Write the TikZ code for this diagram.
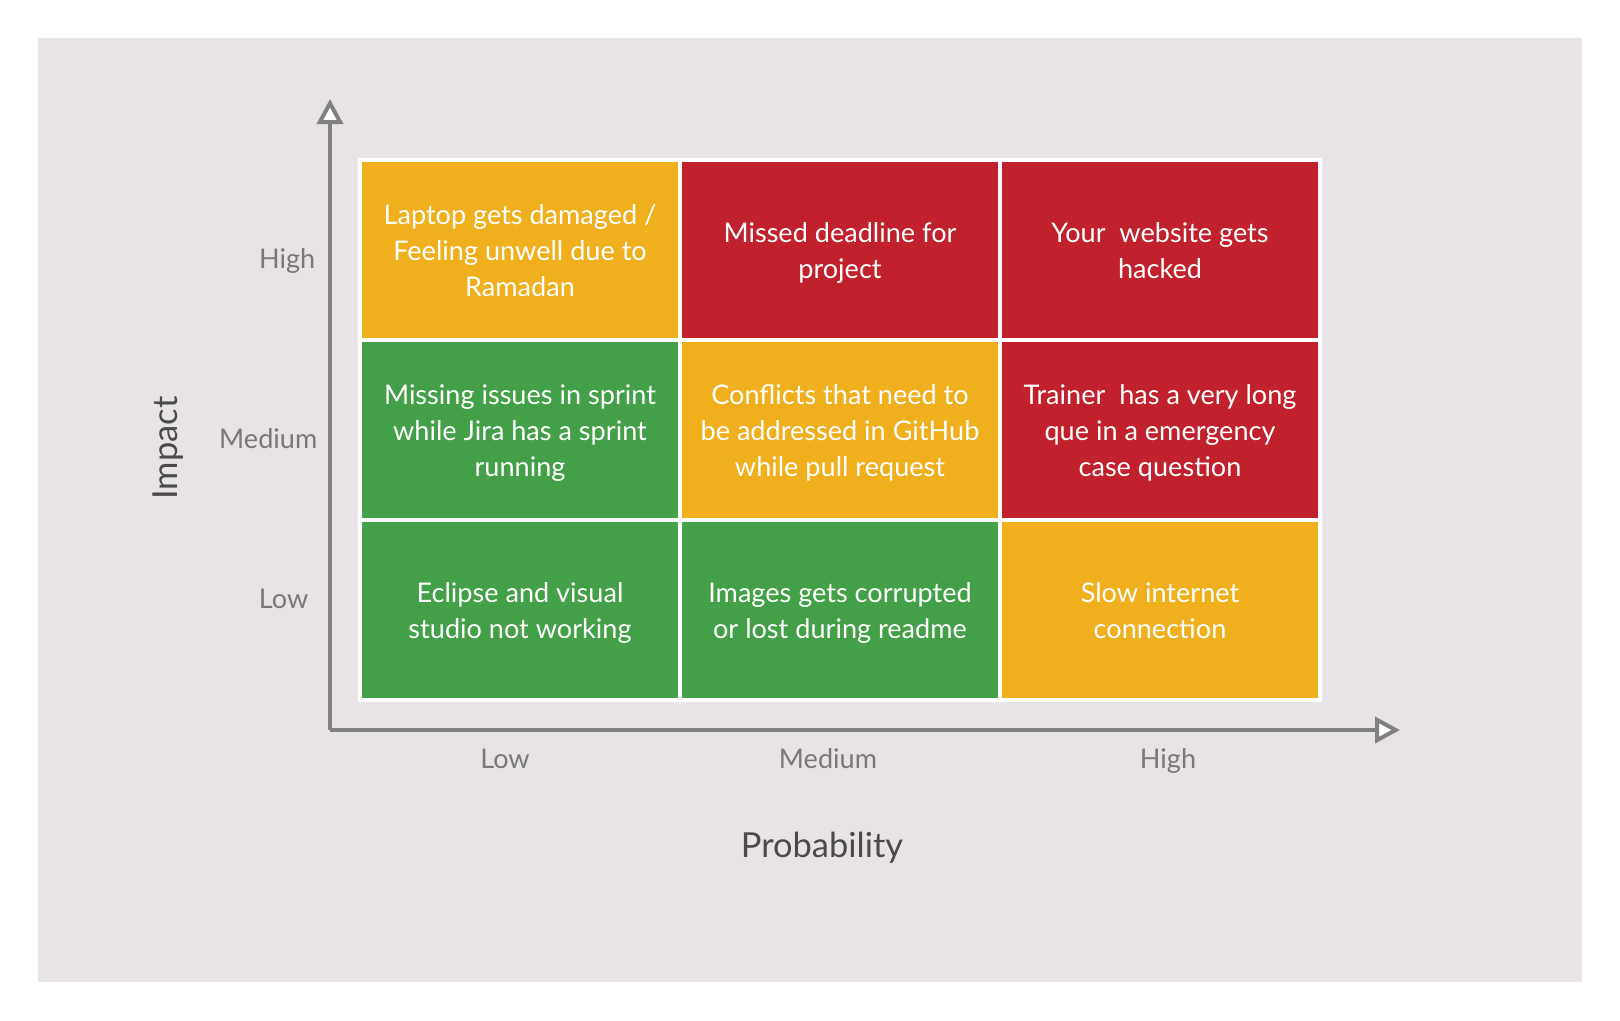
\documentclass[tikz,border=0pt]{standalone}
\usepackage{fontspec}
\setmainfont{Lato}
\usetikzlibrary{arrows.meta}
\definecolor{bgpanel}{RGB}{232,227,231}
\definecolor{riskorange}{RGB}{240,176,30}
\definecolor{riskred}{RGB}{192,33,45}
\definecolor{riskgreen}{RGB}{67,160,72}
\definecolor{axisgray}{RGB}{128,128,128}
\definecolor{ticklabel}{RGB}{120,120,120}
\definecolor{titlegray}{RGB}{74,74,74}
% fixed line extents so every cell text is centred the same way
\newcommand{\cellhead}{\rule{0pt}{9.1pt}}
\newcommand{\cellfoot}{\rule[-3.1pt]{0pt}{3.1pt}}
\tikzset{
  cell/.style={minimum width=316*0.01cm, minimum height=176*0.01cm, inner sep=0pt,
    draw=none, text=white, align=center, font=\fontsize{7.7}{10.3}\selectfont},
  orangecell/.style={cell, fill=riskorange},
  redcell/.style={cell, fill=riskred},
  greencell/.style={cell, fill=riskgreen},
  tick/.style={text=ticklabel, inner sep=0pt, font=\fontsize{7.7}{10}\selectfont},
  axistitle/.style={text=titlegray, inner sep=0pt, font=\fontsize{9.8}{12}\selectfont},
  axisline/.style={draw=axisgray, line width=4*0.01cm,
    -{Triangle[open, fill=white, length=25*0.01cm, width=26*0.01cm, line join=miter]}},
}
\begin{document}
\begin{tikzpicture}[x=0.01cm, y=-0.01cm]
  \useasboundingbox (0,0) rectangle (1620,1020);
  % panel
  \fill[bgpanel] (38,38) rectangle (1582,982);
  % white frame behind the grid
  \fill[white] (358,158) rectangle (1322,702);

  % grid cells (columns: probability, rows: impact)
  \node[orangecell] (c11) at (520,250) {\cellhead Laptop gets damaged /\\Feeling unwell due to\\Ramadan\cellfoot};
  \node[redcell]    (c12) at (840,250) {\cellhead Missed deadline for\\project\cellfoot};
  \node[redcell]    (c13) at (1160,250) {\cellhead Your~ website gets\\hacked\cellfoot};
  \node[greencell]  (c21) at (520,430) {\cellhead Missing issues in sprint\\while Jira has a sprint\\running\cellfoot};
  \node[orangecell] (c22) at (840,430) {\cellhead Conflicts that need to\\be addressed in GitHub\\while pull request\cellfoot};
  \node[redcell]    (c23) at (1160,430) {\cellhead Trainer~ has a very long\\que in a emergency\\case question\cellfoot};
  \node[greencell]  (c31) at (520,610) {\cellhead Eclipse and visual\\studio not working\cellfoot};
  \node[greencell]  (c32) at (840,610) {\cellhead Images gets corrupted\\or lost during readme\cellfoot};
  \node[orangecell] (c33) at (1160,610) {\cellhead Slow internet\\connection\cellfoot};

  % axes
  \coordinate (origin) at (330,730);
  \coordinate (ytop) at (330,99);
  \coordinate (xend) at (1400,730);
  \draw[axisline] (origin) -- (ytop);
  \draw[axisline] (origin) -- (xend);

  % impact ticks
  \node[tick, anchor=base east] (yhigh) at (316,268) {High};
  \node[tick, anchor=base east] (ymed)  at (318,448) {Medium};
  \node[tick, anchor=base east] (ylow)  at (309,608) {Low};

  % probability ticks
  \node[tick, anchor=base] (xlow)  at (505,768) {Low};
  \node[tick, anchor=base] (xmed)  at (828,768) {Medium};
  \node[tick, anchor=base] (xhigh) at (1168,768) {High};

  % axis titles
  \node[axistitle, rotate=90] (impact) at (168,448) {Impact};
  \node[axistitle] (prob) at (822,848) {Probability};
\end{tikzpicture}
\end{document}
